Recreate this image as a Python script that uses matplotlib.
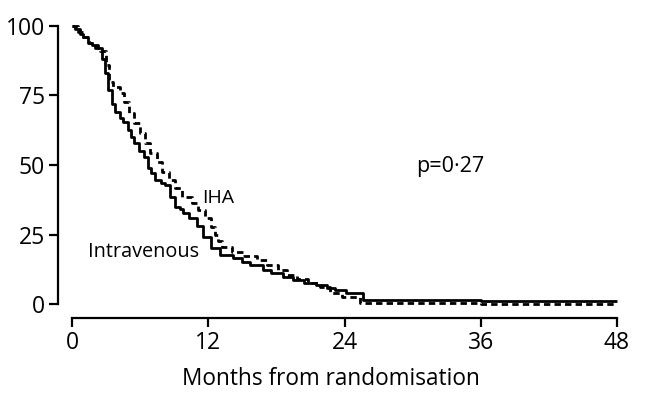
import matplotlib
matplotlib.use("Agg")
import matplotlib.pyplot as plt

# Intravenous (solid) - value holds from each time until the next
iv_t = [0, 0.3, 0.7, 1.0, 1.4, 1.8, 2.3, 2.6, 2.9, 3.2, 3.5, 3.8, 4.2, 4.5, 4.9, 5.2,
        5.5, 5.9, 6.3, 6.7, 7.0, 7.3, 7.8, 8.2, 8.6, 9.1, 9.5, 9.8, 10.3, 11.0, 11.5,
        12.2, 13.0, 14.2, 15.0, 15.7, 16.8, 17.5, 18.6, 19.5, 20.4, 21.5, 22.5, 23.2,
        24.1, 25.6, 36, 42, 48]
iv_s = [100, 99, 97, 96, 94, 93, 92, 88, 83, 77, 72, 69, 67, 65.5, 62.5, 60,
        58, 55, 53, 49, 47, 44.6, 43.5, 42.8, 38.5, 35, 34, 32.7, 31, 28, 24,
        20, 17.6, 16.5, 15, 14, 12.2, 11, 9.7, 8.6, 7.6, 6.8, 5.8, 5.0,
        3.8, 1.4, 1.2, 1.0, 0.9]

# IHA (dashed)
iha_t = [0, 0.5, 1.0, 1.5, 2.0, 2.5, 3.0, 3.3, 3.6, 4.2, 4.6, 5.0, 5.5, 6.0, 6.4, 6.9,
         7.5, 7.9, 8.5, 9.1, 9.7, 10.6, 11.1, 11.7, 12.2, 12.6, 12.9, 13.2, 14.1, 15.1,
         16.3, 17.2, 18.1, 18.9, 19.8, 20.8, 21.8, 22.7, 23.8, 25.4, 36, 48]
iha_s = [100, 98, 96, 94, 92, 91, 86, 80, 78, 76, 72.6, 68.7, 65, 61.5, 58, 54.3,
         51, 47.5, 44.6, 41.7, 38.5, 36.3, 33.8, 30.9, 27.7, 25, 22.5, 20.5, 18.7, 17.3,
         15.8, 14, 12.2, 10.5, 9, 7.6, 6, 4, 2.6, 0.3, 0.1, 0.0]

x_ticks = [0, 12, 24, 36, 48]
y_ticks = [0, 25, 50, 75, 100]

plt.rcParams['font.family'] = ['Open Sans', 'DejaVu Sans']

W, H = 646, 395
fig = plt.figure(figsize=(W / 100, H / 100), dpi=100)
ax = fig.add_axes([72 / W, (H - 304) / H, (617 - 72) / W, (304 - 26) / H])

ax.plot(iv_t, iv_s, drawstyle='steps-post', color='black', lw=2.0, solid_capstyle='butt',
        clip_on=False)
ax.plot(iha_t, iha_s, drawstyle='steps-post', color='black', lw=2.0,
        linestyle=(0, (2.3, 1.5)), dash_capstyle='butt', clip_on=False)

ax.set_xlim(0, 48)
ax.set_ylim(0, 100)
ax.set_xticks(x_ticks)
ax.set_yticks(y_ticks)
ax.set_xticklabels([str(v) for v in x_ticks])
ax.set_yticklabels([str(v) for v in y_ticks])

for s in ['top', 'right']:
    ax.spines[s].set_visible(False)
ax.spines['left'].set_position(('outward', 10))
ax.spines['bottom'].set_position(('outward', 10))
ax.spines['left'].set_bounds(0, 100)
ax.spines['bottom'].set_bounds(0, 48)
for s in ['left', 'bottom']:
    ax.spines[s].set_linewidth(1.6)
ax.tick_params(axis='both', length=6.5, width=1.6, labelsize=16.5, pad=3, colors='black')

ax.set_xlabel('Months from randomisation', fontsize=16.3)
ax.xaxis.set_label_coords(0.475, -0.225)

ax.text(30.3, 49.6, 'p=0\u00b727', fontsize=15.5, va='center', ha='left')
ax.text(11.5, 38.0, 'IHA', fontsize=14, va='center', ha='left')
ax.text(1.4, 18.7, 'Intravenous', fontsize=14.3, va='center', ha='left')

fig.savefig('out.png', dpi=100)
